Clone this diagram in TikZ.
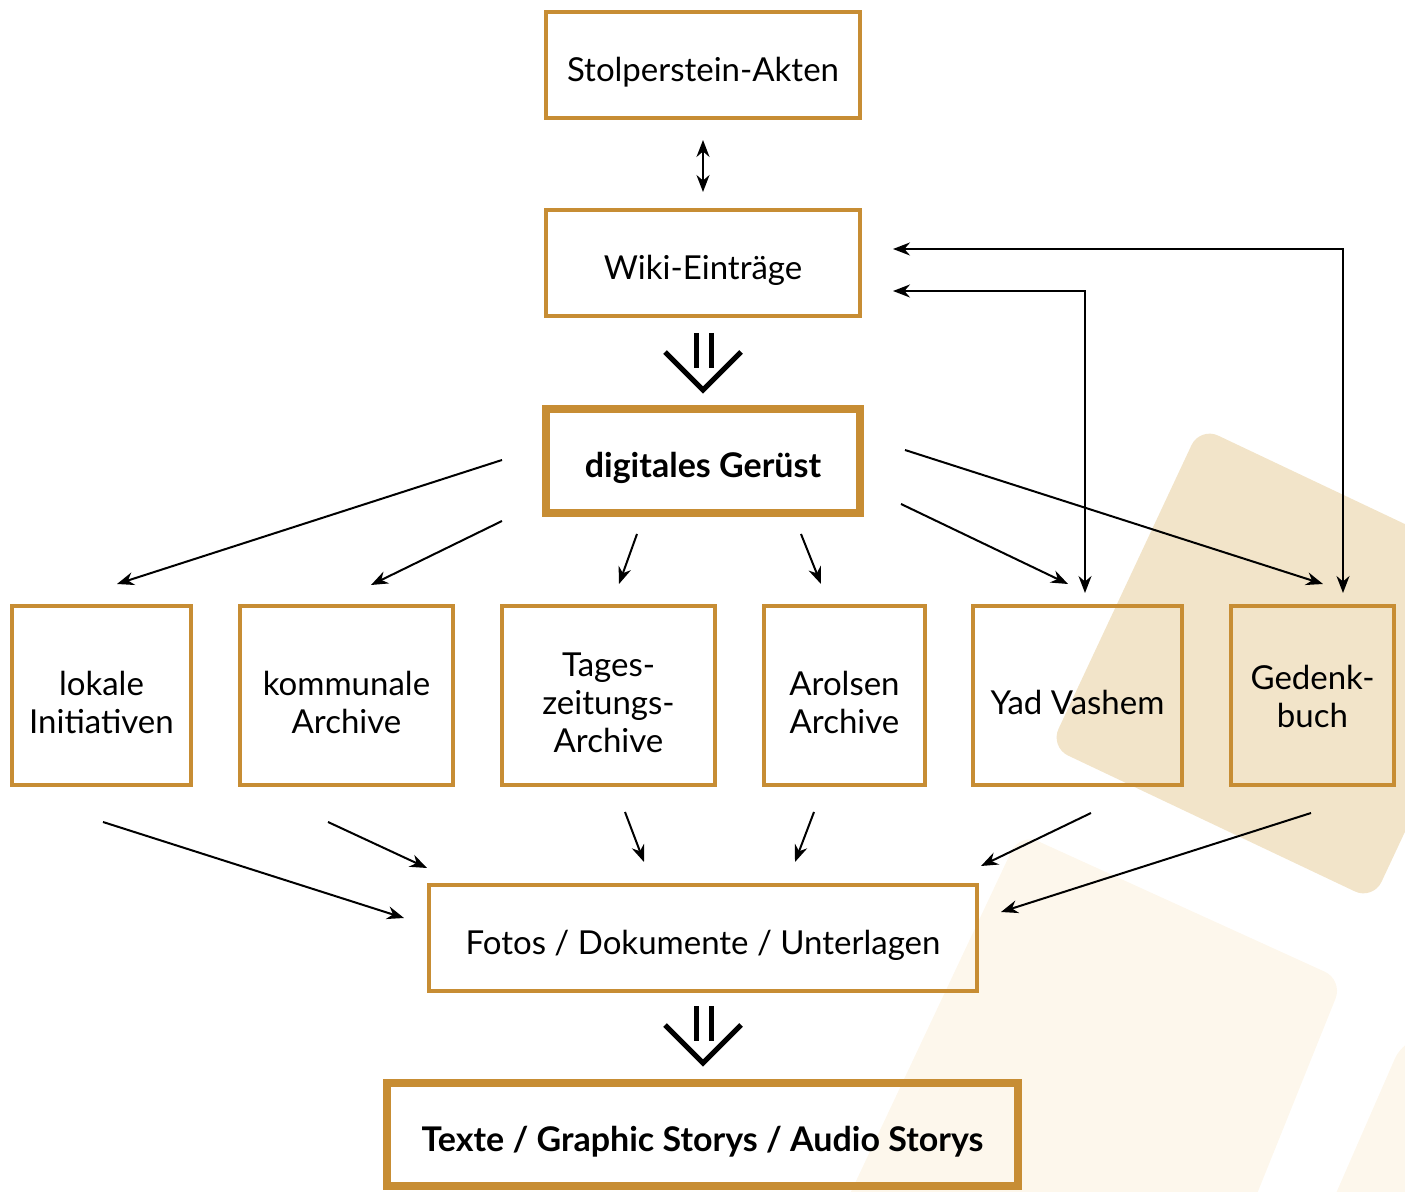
\documentclass[tikz,border=0pt]{standalone}
\usepackage{fontspec}
\setmainfont{Lato}
\usetikzlibrary{arrows.meta}
\definecolor{gold}{HTML}{C78D34}
\definecolor{bgA}{HTML}{F2E4C9}
\definecolor{bgB}{HTML}{FDF7EC}
\begin{document}
\begin{tikzpicture}[x=0.5pt,y=-0.5pt,
 box/.style={draw=gold, line width=2pt, inner sep=0pt},
 bigbox/.style={box, line width=4pt},
 lbl/.style={align=center, inner sep=0pt, yshift=-3.5pt, font=\fontsize{16.5}{19}\selectfont},
 blbl/.style={lbl, font=\fontsize{17}{19}\selectfont\bfseries},
 txt/.style={label={[lbl]center:#1}},
 btxt/.style={label={[blbl]center:#1}},
 arr/.style={-{Stealth[length=8.5pt,width=6.5pt]}, line width=1pt},
 dbl/.style={{Stealth[length=8.5pt,width=6.5pt]}-{Stealth[length=8.5pt,width=6.5pt]}, line width=1pt},
 fat/.style={line width=2.5pt},
 bgshape/.style={rounded corners=10pt}]
\useasboundingbox (0,0) rectangle (1405,1192);
\begin{scope}
\clip (0,0) rectangle (1405,1192);
\fill[bgB, bgshape] (1020,833) -- (800,1300) -- (1150,1460) -- (1343,980) -- cycle;
\fill[bgB, bgshape] (1403,1040) -- (1320,1230) -- (1600,1300) -- (1600,1000) -- cycle;
\fill[bgA, bgshape] (1200,427) -- (1050,747) -- (1373,900) -- (1523,580) -- cycle;
\end{scope}

\node[box, minimum width=157pt, minimum height=53pt, txt={Stolperstein-Akten}] (akten) at (703,65) {};
\node[box, minimum width=157pt, minimum height=53pt, txt={Wiki-Einträge}] (wiki) at (703,263) {};
\node[bigbox, minimum width=157pt, minimum height=52pt, btxt={digitales Gerüst}] (geruest) at (703,461) {};
\node[box, minimum width=89.5pt, minimum height=89.5pt, txt={lokale\\Initiativen}] (lokale) at (101.5,695.5) {};
\node[box, minimum width=106.5pt, minimum height=89.5pt, txt={kommunale\\Archive}] (komm) at (346.5,695.5) {};
\node[box, minimum width=106.5pt, minimum height=89.5pt, txt={Tages-\\zeitungs-\\Archive}] (tages) at (608.5,695.5) {};
\node[box, minimum width=80.5pt, minimum height=89.5pt, txt={Arolsen\\Archive}] (arolsen) at (844.5,695.5) {};
\node[box, minimum width=104.5pt, minimum height=89.5pt, txt={Yad Vashem}] (yad) at (1077.5,695.5) {};
\node[box, minimum width=81.5pt, minimum height=89.5pt, label={[lbl, yshift=3pt]center:{Gedenk-\\buch}}] (gedenk) at (1312.5,695.5) {};
\node[box, minimum width=274pt, minimum height=53pt, txt={Fotos / Dokumente / Unterlagen}] (fotos) at (703,938) {};
\node[bigbox, minimum width=315.5pt, minimum height=51.5pt, btxt={Texte / Graphic Storys / Audio Storys}] (texte) at (702.5,1134.5) {};

% top double arrow
\coordinate (d1) at (703,140);
\coordinate (d2) at (703,192);
\draw[dbl] (d1) -- (d2);

% big down symbols
\foreach \dy in {0,673}{
  \begin{scope}[yshift=-\dy*0.5pt]
  \draw[fat] (696,333) -- (696,368);
  \draw[fat] (711,333) -- (711,368);
  \draw[fat, miter limit=10] (665,352) -- (703,390) -- (741,352);
  \end{scope}
}

% wiki loops
\coordinate (w1) at (893,249);
\coordinate (w1c) at (1343,249);
\coordinate (g1) at (1343,593);
\draw[dbl] (w1) -- (w1c) -- (g1);
\coordinate (w2) at (893,291);
\coordinate (w2c) at (1085,291);
\coordinate (y1) at (1085,593);
\draw[dbl] (w2) -- (w2c) -- (y1);

% from geruest
\coordinate (s1) at (502,460); \coordinate (e1) at (117,584);
\coordinate (s2) at (502,521); \coordinate (e2) at (371,585);
\coordinate (s3) at (637,534); \coordinate (e3) at (619,584);
\coordinate (s4) at (801,534); \coordinate (e4) at (821,584);
\coordinate (s5) at (901,504); \coordinate (e5) at (1068,584);
\coordinate (s6) at (905,450); \coordinate (e6) at (1323,584);
\foreach \i in {1,...,6}{\draw[arr] (s\i) -- (e\i);}

% to fotos
\coordinate (t1) at (103,822); \coordinate (f1) at (404,918);
\coordinate (t2) at (328,822); \coordinate (f2) at (427,868);
\coordinate (t3) at (625,812); \coordinate (f3) at (644,862);
\coordinate (t4) at (814,812); \coordinate (f4) at (795,862);
\coordinate (t5) at (1091,813); \coordinate (f5) at (981,866);
\coordinate (t6) at (1311,813); \coordinate (f6) at (1001,912);
\foreach \i in {1,...,6}{\draw[arr] (t\i) -- (f\i);}
\end{tikzpicture}
\end{document}
